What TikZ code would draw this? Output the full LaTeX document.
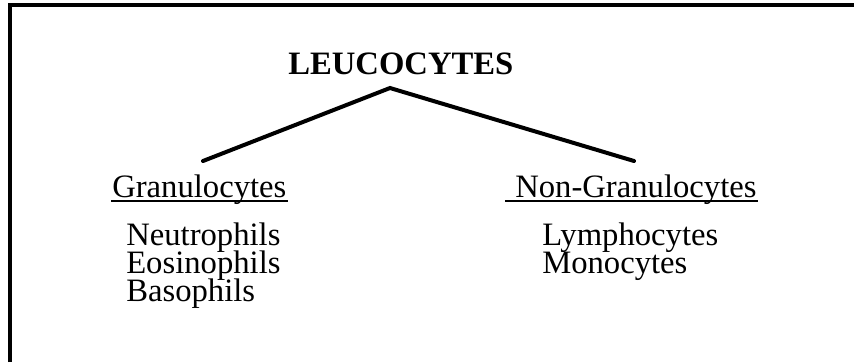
\documentclass[tikz,border=0pt]{standalone}
\usepackage{fontspec}
\setmainfont{Liberation Serif}
\begin{document}
\begin{tikzpicture}[x=0.75pt,y=-0.75pt,
  lbl/.style={inner sep=0pt,anchor=base west,font=\fontsize{24.5}{24.5}\selectfont},
  ttl/.style={inner sep=0pt,anchor=base west,font=\fontsize{24.5}{24.5}\selectfont\bfseries},
  branch/.style={line width=3pt,line cap=round},
  frame/.style={line width=2.4pt},
  uline/.style={line width=1.6pt}]
\useasboundingbox (0,0) rectangle (854,362);
% frame (top and left only)
\coordinate (ftl) at (10,5);
\coordinate (ftr) at (854,5);
\coordinate (fbl) at (10,362);
\draw[frame] (fbl) -- (ftl) -- (ftr);
% title
\node[ttl] (leu) at (288,74) {LEUCOCYTES};
\coordinate (apex) at (390,88);
\coordinate (lend) at (203,161);
\coordinate (rend) at (634,161);
\draw[branch] (lend) -- (apex) -- (rend);
% categories
\node[lbl] (gran) at (112,197) {Granulocytes};
\node[lbl] (nongran) at (515,197) {Non-Granulocytes};
\coordinate (gu1) at (111,201);
\coordinate (gu2) at (288,201);
\coordinate (nu1) at (505,201);
\coordinate (nu2) at (758,201);
\draw[uline] (gu1) -- (gu2);
\draw[uline] (nu1) -- (nu2);
% members
\node[lbl] (neu) at (126,245) {Neutrophils};
\node[lbl] (eos) at (126,273) {Eosinophils};
\node[lbl] (bas) at (126,301) {Basophils};
\node[lbl] (lym) at (542,245) {Lymphocytes};
\node[lbl] (mon) at (542,273) {Monocytes};
\end{tikzpicture}
\end{document}
